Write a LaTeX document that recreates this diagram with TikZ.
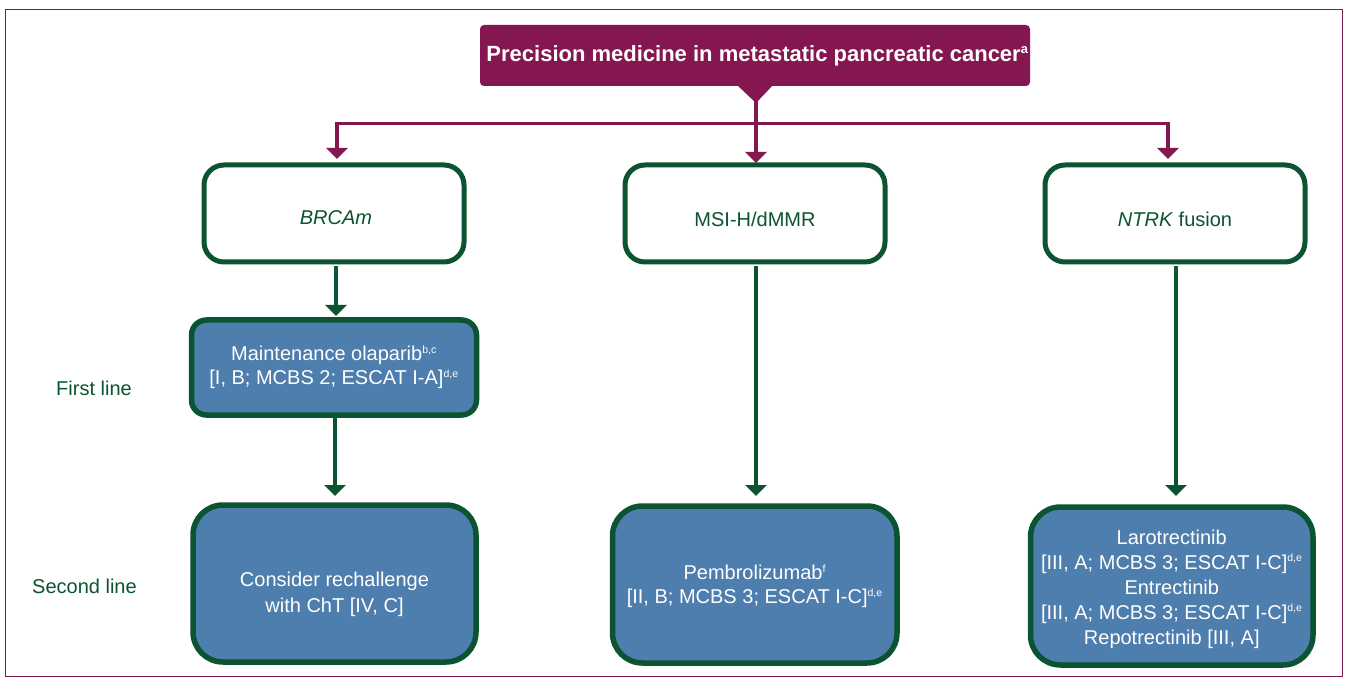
\documentclass[tikz,border=0pt]{standalone}
\usepackage{fontspec}
\setmainfont{Liberation Sans}
\usetikzlibrary{arrows.meta,calc}
\definecolor{plum}{HTML}{84174F}
\definecolor{framec}{HTML}{7A1A52}
\definecolor{pine}{HTML}{0B5331}
\definecolor{steel}{HTML}{4D7EAD}
\newcommand{\supr}[1]{\textsuperscript{\fontsize{10.5}{11}\selectfont #1}}
\tikzset{
  x=1pt,y=-1pt,
  boxbase/.style={rounded corners=#1,outer sep=0pt,inner sep=0pt,align=center,font=\fontsize{20}{24}\selectfont},
  testbox/.style={boxbase=20pt,draw=pine,line width=5pt,fill=white,text=pine},
  treatbox/.style={boxbase=#1,draw=pine,line width=5.5pt,fill=steel,text=white},
  rowlabel/.style={text=pine,font=\fontsize{20}{24}\selectfont,inner sep=0pt},
  garrow/.style={draw=pine,line width=3.6pt,-{Triangle[length=11pt,width=21pt]}},
  parrow/.style={draw=plum,line width=3.6pt,-{Triangle[length=11pt,width=21pt]}},
}
\newcommand{\abox}[7]{\node[#2,minimum width=#5-#3,minimum height=#6-#4] (#1) at ({(#3+#5)/2},{(#4+#6)/2}) {#7};}
\begin{document}
\begin{tikzpicture}
\useasboundingbox (0,0) rectangle (1345,687);
\fill[white] (0,0) rectangle (1345,687);
\draw[framec,line width=1.6pt] (5.5,9.5) rectangle (1342.5,676.5);

\abox{title}{boxbase=4pt,fill=plum,text=white,font=\fontsize{22}{24}\selectfont\bfseries}{480}{25}{1030}{86}{\hspace*{5pt}Precision medicine in metastatic pancreatic cancer\textsuperscript{\fontsize{13}{13}\selectfont a}}
\fill[plum] ([xshift=-18pt,yshift=1pt]title.south) -- ([xshift=18pt,yshift=1pt]title.south) -- ([xshift=1pt,yshift=-17pt]title.south) -- cycle;

\abox{brca}{testbox}{204}{165}{464}{262}{\rule{0pt}{22.5pt}\hspace*{4pt}\itshape BRCAm}
\abox{msi}{testbox}{625}{165}{885}{262}{\rule{0pt}{25.5pt}MSI-H/dMMR}
\abox{ntrk}{testbox}{1045}{165}{1305}{262}{\rule{0pt}{25.5pt}\textit{NTRK} fusion}

\abox{olap}{treatbox=15pt}{191.5}{320}{476.5}{415}{Maintenance olaparib\supr{b,c}\\{[I, B; MCBS 2; ESCAT I-A]}\supr{d,e}}
\abox{rech}{treatbox=30pt,font=\fontsize{20}{26}\selectfont}{193}{505}{476}{662}{\rule{0pt}{36pt}Consider rechallenge\\with ChT [IV, C]}
\abox{pemb}{treatbox=30pt}{612.5}{506}{897}{663}{\rule{0pt}{19pt}Pembrolizumab\supr{f}\\{[II, B; MCBS 3; ESCAT I-C]}\supr{d,e}}
\abox{laro}{treatbox=30pt,font=\fontsize{20}{25}\selectfont}{1030.5}{507}{1313}{665}{\rule{0pt}{20.5pt}Larotrectinib\\{[III, A; MCBS 3; ESCAT I-C]}\supr{d,e}\\Entrectinib\\{[III, A; MCBS 3; ESCAT I-C]}\supr{d,e}\\Repotrectinib [III, A]}

\node[rowlabel] (first) at (94,388) {First line};
\node[rowlabel] (second) at (84.5,586) {Second line};

\coordinate (hl) at (337,123.5);
\coordinate (hr) at (1168,123.5);
\draw[plum,line width=3.6pt,line cap=rect] (hl) -- (hr);
\draw[parrow,shorten >=6pt] (hl) -- (hl |- brca.north);
\draw[parrow,shorten >=6pt] (hr) -- (hr |- ntrk.north);
\draw[parrow,shorten <=14pt,shorten >=2pt] ([xshift=1pt]title.south) -- ([xshift=1pt]title.south |- msi.north);

\draw[garrow,shorten <=4pt,shorten >=4pt] ([xshift=2pt]brca.south) -- ([xshift=2pt]brca.south |- olap.north);
\draw[garrow,shorten <=3pt,shorten >=9pt] ([xshift=1pt]olap.south) -- ([xshift=1pt]olap.south |- rech.north);
\draw[garrow,shorten <=4pt,shorten >=10pt] ([xshift=1pt]msi.south) -- ([xshift=1pt]msi.south |- pemb.north);
\draw[garrow,shorten <=4pt,shorten >=11pt] ([xshift=1pt]ntrk.south) -- ([xshift=1pt]ntrk.south |- laro.north);
\end{tikzpicture}
\end{document}
